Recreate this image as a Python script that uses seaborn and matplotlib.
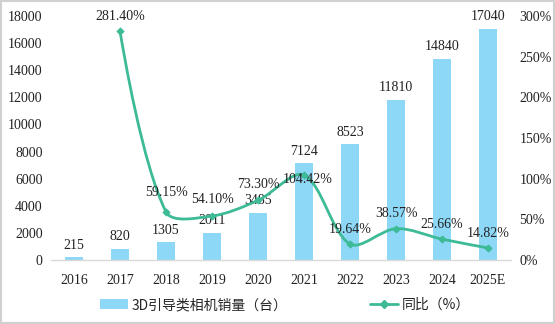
import numpy as np
import pandas as pd
import matplotlib
matplotlib.use("Agg")
import matplotlib.pyplot as plt
import seaborn as sns
from matplotlib.path import Path
from matplotlib.patches import PathPatch, Patch, Rectangle
from matplotlib.lines import Line2D

years = ["2016", "2017", "2018", "2019", "2020", "2021", "2022", "2023", "2024", "2025E"]
sales = [215, 820, 1305, 2011, 3485, 7124, 8523, 11810, 14840, 17040]
yoy = [None, 281.40, 59.15, 54.10, 73.30, 104.42, 19.64, 38.57, 25.66, 14.82]
yoy_labels = ["", "281.40%", "59.15%", "54.10%", "73.30%", "104.42%", "19.64%", "38.57%", "25.66%", "14.82%"]
left_ticks = [0, 2000, 4000, 6000, 8000, 10000, 12000, 14000, 16000, 18000]
right_ticks = [0, 50, 100, 150, 200, 250, 300]
bar_name = "3D引导类相机销量（台）"
line_name = "同比（%）"

BAR_C = "#8dd8f6"
LINE_C = "#3dba96"

sns.set_style("white")
plt.rcParams["font.family"] = ["Liberation Serif", "Noto Sans CJK SC", "DejaVu Sans"]

W, H = 555, 324
fig = plt.figure(figsize=(W / 100, H / 100), dpi=100)
ax = fig.add_axes([51 / W, 1 - 260 / H, (511 - 51) / W, (260 - 16) / H])

df = pd.DataFrame({"year": years, "sales": sales})
sns.barplot(data=df, x="year", y="sales", order=years, color=BAR_C, width=0.4,
            saturation=1, ax=ax, edgecolor="none")
ax.set_xlim(-0.5, len(years) - 0.5)
ax.set_ylim(0, 18000)
ax.set_yticks(left_ticks)
ax.set_yticklabels([str(t) for t in left_ticks], fontsize=10, color="#222222")
ax.tick_params(axis="x", labelsize=10, colors="#222222", length=0, pad=10)
ax.tick_params(axis="y", length=0, pad=6)
ax.set_xlabel("")
ax.set_ylabel("")
for s in ["top", "right", "left"]:
    ax.spines[s].set_visible(False)
ax.spines["bottom"].set_color("#d9d9d9")
ax.spines["bottom"].set_linewidth(1)

for i, v in enumerate(sales):
    ax.annotate(str(v), (i, v), xytext=(0, 4), textcoords="offset points",
                ha="center", va="bottom", fontsize=10, color="#222222")

ax2 = ax.twinx()
ax2.set_ylim(0, 300)
ax2.set_yticks(right_ticks)
ax2.set_yticklabels([f"{t}%" for t in right_ticks], fontsize=10, color="#222222")
ax2.tick_params(axis="y", length=0, pad=6)
for s in ["top", "right", "left", "bottom"]:
    ax2.spines[s].set_visible(False)

# smooth curve (Bezier through data points, computed in pixel-scaled space)
idx = [i for i, v in enumerate(yoy) if v is not None]
xs = np.array(idx, dtype=float)
ys = np.array([yoy[i] for i in idx], dtype=float)
sx = (511 - 51) / len(years)
sy = (260 - 16) / 300.0
P = np.column_stack([xs * sx, ys * sy])
n = len(P)
smooth = 0.32
hin = np.zeros_like(P)
hout = np.zeros_like(P)
for i in range(1, n - 1):
    d0 = np.linalg.norm(P[i] - P[i - 1])
    d1 = np.linalg.norm(P[i + 1] - P[i])
    T = P[i + 1] - P[i - 1]
    hin[i] = -T * smooth * d0 / (d0 + d1)
    hout[i] = T * smooth * d1 / (d0 + d1)
hout[0] = (P[1] - P[0] + hin[1]) * smooth * 0.5
hin[-1] = -(P[-1] - P[-2] - hout[-2]) * smooth * 0.5
verts = [P[0]]
codes = [Path.MOVETO]
for i in range(n - 1):
    verts += [P[i] + hout[i], P[i + 1] + hin[i + 1], P[i + 1]]
    codes += [Path.CURVE4] * 3
verts = np.array(verts)
verts[:, 0] /= sx
verts[:, 1] /= sy
ax2.add_patch(PathPatch(Path(verts, codes), facecolor="none", edgecolor=LINE_C,
                        linewidth=2, zorder=3))
sns.scatterplot(x=xs, y=ys, ax=ax2, marker="D", s=14, color=LINE_C,
                edgecolor=LINE_C, linewidth=0.5, zorder=4, legend=False)

offsets = {1: (0, 6), 2: (0, 9), 3: (0, 7), 4: (0, 7), 5: (3, -8), 6: (0, 6),
           7: (0, 6), 8: (0, 6), 9: (0, 6)}
for i in idx:
    dx, dy = offsets[i]
    ax2.annotate(yoy_labels[i], (i, yoy[i]), xytext=(dx, dy), textcoords="offset points",
                 ha="center", va="bottom", fontsize=10, color="#222222", zorder=5)

handles = [Patch(facecolor=BAR_C, edgecolor="none"),
           Line2D([0], [0], color=LINE_C, lw=2, marker="D", markersize=4)]
fig.legend(handles, [bar_name, line_name], loc="center", bbox_to_anchor=(285 / W, 1 - 305 / H),
           ncol=2, frameon=False, handlelength=2.0, handleheight=0.7,
           columnspacing=5.9, handletextpad=0.3, prop={"family": ["Noto Sans CJK SC"], "size": 10})

fig.add_artist(Rectangle((0.001, 0.002), 0.997, 0.995, transform=fig.transFigure,
                         fill=False, edgecolor="#d0d0d0", linewidth=1.5))

fig.savefig("out.png", dpi=100)
